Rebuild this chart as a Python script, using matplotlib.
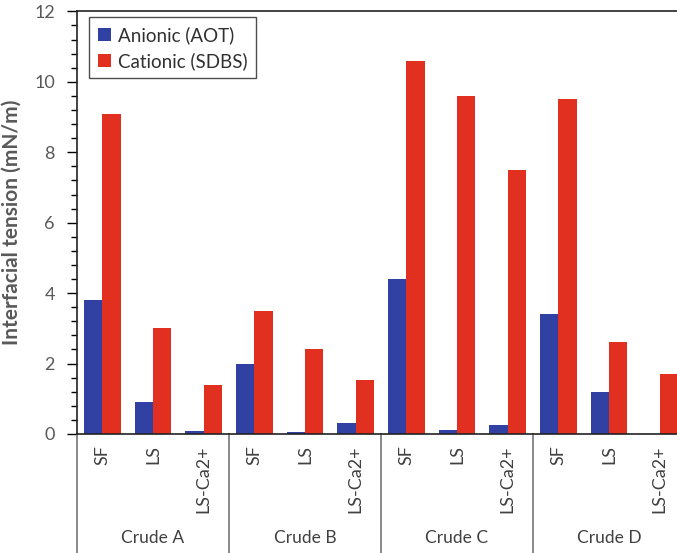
import numpy as np
import matplotlib
matplotlib.use('Agg')
import matplotlib.pyplot as plt
from matplotlib.ticker import MultipleLocator
import matplotlib.transforms as mtransforms

plt.rcParams['font.family'] = ['Lato', 'DejaVu Sans']

# data
crudes = ['Crude A', 'Crude B', 'Crude C', 'Crude D']
conditions = ['SF', 'LS', 'LS-Ca2+']
anionic = [3.8, 0.9, 0.08,
           2.0, 0.05, 0.32,
           4.4, 0.1, 0.26,
           3.4, 1.2, 0.0]
cationic = [9.1, 3.0, 1.4,
            3.5, 2.4, 1.52,
            10.6, 9.6, 7.5,
            9.5, 2.6, 1.7]

blue = '#3140a3'
red = '#e1301f'
grey = '#595959'
dark = '#404040'

fig = plt.figure(figsize=(6.77, 5.53), dpi=100)
# axes runs past the right edge on purpose (reference is cropped there)
ax = fig.add_axes([77/677, 119/553, 608/677, 422.6/553])

x = np.arange(len(anionic))
w = 0.36
ax.bar(x - w/2, anionic, w, color=blue, label='Anionic (AOT)')
ax.bar(x + w/2, cationic, w, color=red, label='Cationic (SDBS)')

ax.set_xlim(-0.5, len(x) - 0.5)
ax.set_ylim(0, 12)
ax.yaxis.set_major_locator(MultipleLocator(2))
ax.yaxis.set_minor_locator(MultipleLocator(0.4))
ax.tick_params(axis='y', which='major', length=7, width=1, direction='out',
               labelsize=13, labelcolor=grey, pad=9)
ax.tick_params(axis='y', which='minor', length=4, width=1, direction='out')

ax.set_xticks(x)
ax.set_xticklabels(conditions * len(crudes), rotation=90, va='top')
ax.tick_params(axis='x', length=0, labelsize=13, labelcolor=dark, pad=8)

for s in ['left', 'bottom', 'top']:
    ax.spines[s].set_linewidth(1.2)
    ax.spines[s].set_color('#222222')
ax.spines['right'].set_visible(False)

ax.set_ylabel('Interfacial tension (mN/m)', fontsize=15, fontweight='bold',
              color=grey)
ax.yaxis.set_label_coords(-0.091, 0.5)

# group separators and group labels under the axis
trans = mtransforms.blended_transform_factory(ax.transData, ax.transAxes)
for b in [-0.5, 2.5, 5.5, 8.5, 11.5]:
    ax.plot([b, b], [0, -0.32], transform=trans, color='#7f7f7f', lw=1.3,
            clip_on=False)
for i, name in enumerate(crudes):
    ax.text(i * 3 + 1, -0.245, name, transform=trans, ha='center',
            va='center', fontsize=12.5, color=dark)

leg = ax.legend(loc='upper left', bbox_to_anchor=(0.02, 0.986),
                borderaxespad=0, fancybox=False, fontsize=13.5,
                handlelength=0.7, handleheight=0.7, handletextpad=0.4,
                labelspacing=0.45, borderpad=0.45)
leg.get_frame().set_edgecolor('#222222')
leg.get_frame().set_linewidth(1.0)
for t in leg.get_texts():
    t.set_color('#303030')

fig.savefig('out.png', dpi=100)
